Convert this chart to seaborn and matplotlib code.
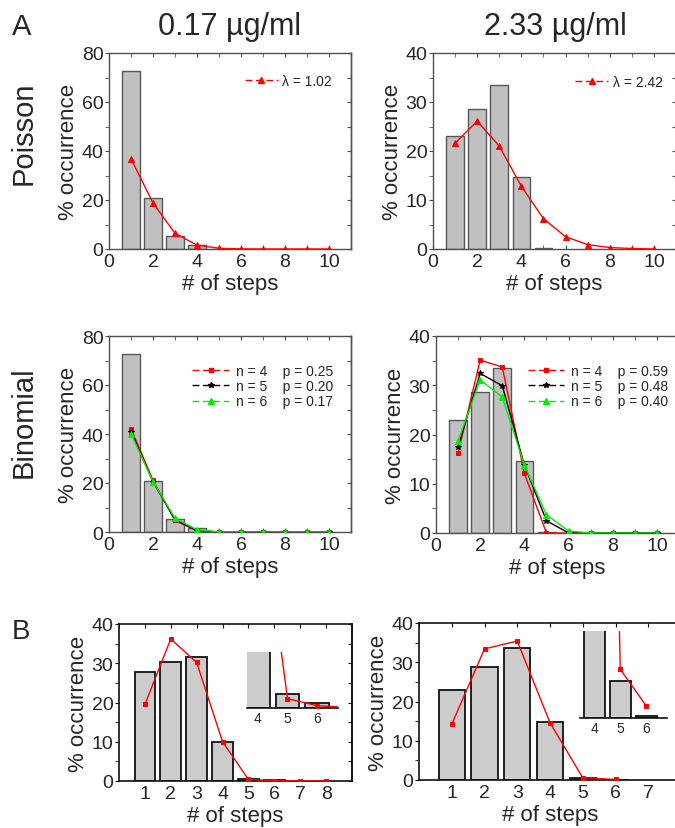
import numpy as np
import pandas as pd
import matplotlib
matplotlib.use("Agg")
import matplotlib.pyplot as plt
import seaborn as sns
from matplotlib.ticker import MultipleLocator
from matplotlib.lines import Line2D

# ---- data ----
steps = [1, 2, 3, 4, 5, 6, 7, 8, 9, 10]
hist_steps = [1, 2, 3, 4, 5]

hist_low = [72.5, 21.0, 5.3, 1.5, 0.2]        # 0.17 ug/ml
hist_high = [23.0, 28.6, 33.5, 14.7, 0.3]     # 2.33 ug/ml

poisson_low = [36.8, 18.8, 6.4, 1.6, 0.3, 0.06, 0.01, 0, 0, 0]
poisson_high = [21.6, 26.1, 21.0, 12.8, 6.2, 2.5, 0.9, 0.3, 0.1, 0.0]
lam_low, lam_high = "1.02", "2.42"

binom_n = [4, 5, 6]
binom_p_low = ["0.25", "0.20", "0.17"]
binom_p_high = ["0.59", "0.48", "0.40"]
binom_low = [
    [42.2, 21.1, 4.7, 0.4, 0, 0, 0, 0, 0, 0],
    [41.0, 20.5, 5.1, 0.6, 0.03, 0, 0, 0, 0, 0],
    [40.2, 20.6, 5.6, 0.9, 0.07, 0, 0, 0, 0, 0],
]
binom_high = [
    [16.3, 35.1, 33.7, 12.1, 0, 0, 0, 0, 0, 0],
    [17.5, 32.4, 29.9, 13.8, 2.5, 0, 0, 0, 0, 0],
    [18.7, 31.1, 27.6, 13.8, 3.7, 0.4, 0.02, 0, 0, 0],
]

b_steps_low = [1, 2, 3, 4, 5, 6]
b_hist_low = [27.8, 30.3, 31.6, 10.0, 0.6, 0.2]
b_fit_steps_low = [1, 2, 3, 4, 5, 6, 7, 8]
b_fit_low = [19.5, 36.2, 30.2, 10.0, 0.4, 0.1, 0.03, 0.02]

b_steps_high = [1, 2, 3, 4, 5, 6]
b_hist_high = [23.0, 28.7, 33.7, 14.7, 0.43, 0.02]
b_fit_steps_high = [1, 2, 3, 4, 5, 6]
b_fit_high = [14.2, 33.4, 35.4, 14.6, 0.56, 0.14]

# ---- style ----
sns.set_style("ticks")
plt.rcParams["font.family"] = ["Liberation Sans", "DejaVu Sans"]

W, H = 675, 829
fig = plt.figure(figsize=(W / 100, H / 100), dpi=100)


def px(l, r, t, b):
    return [l / W, 1 - b / H, (r - l) / W, (b - t) / H]


def bars(ax, x, y, face, edge, lw):
    df = pd.DataFrame({"steps": x, "occ": y})
    sns.barplot(data=df, x="steps", y="occ", native_scale=True, width=0.8,
                color=face, edgecolor=edge, linewidth=lw, saturation=1,
                errorbar=None, ax=ax, zorder=1)


def fit(ax, x, y, color, marker, ms):
    sns.lineplot(x=x, y=y, color=color, marker=marker, markersize=ms,
                 markeredgecolor=color, linewidth=1, ax=ax, legend=False, zorder=3)


def frame(ax, ymax, ymaj, yright, xlim, xmaj, xmin, spine_col, spine_lw, bottom_ticks=True):
    ax.set_xlim(*xlim)
    ax.set_ylim(0, ymax)
    ax.xaxis.set_major_locator(MultipleLocator(xmaj))
    ax.xaxis.set_minor_locator(MultipleLocator(xmin))
    ax.yaxis.set_major_locator(MultipleLocator(ymaj))
    ax.yaxis.set_minor_locator(MultipleLocator(ymaj / 2))
    for s in ax.spines.values():
        s.set_visible(True)
        s.set_color(spine_col)
        s.set_linewidth(spine_lw)
    ax.tick_params(axis="x", which="both", direction="in", top=True, bottom=bottom_ticks,
                   color=spine_col, labelsize=14, pad=3, length=3)
    ax.tick_params(axis="y", which="both", direction="out", right=False, left=True,
                   color=spine_col, labelsize=14, pad=1, length=3)
    sec = ax.secondary_yaxis("right")
    sec.yaxis.set_major_locator(MultipleLocator(yright))
    sec.tick_params(direction="in", length=3, labelright=False, color=spine_col)
    sec.spines["right"].set_color(spine_col)
    sec.spines["right"].set_linewidth(spine_lw)
    ax.set_xlabel("# of steps", fontsize=16, labelpad=2)
    ax.set_ylabel("% occurrence", fontsize=16, labelpad=2)


def legend_handle(color, marker, ms):
    return Line2D([], [], color=color, marker=marker, markersize=ms, lw=1,
                  ls=(0, (5, 2.5)), markeredgecolor=color)


gray_face, gray_edge = "#c0c0c0", "#585858"

# ---- A: Poisson ----
ax1 = fig.add_axes(px(109, 351, 54, 250))
bars(ax1, hist_steps, hist_low, gray_face, gray_edge, 1.0)
fit(ax1, steps, poisson_low, "#ff0000", "^", 4)
frame(ax1, 80, 20, 10, (0, 11), 2, 1, "#505050", 1.0)
ax1.legend(handles=[legend_handle("#ff0000", "^", 4)], labels=[f"\u03bb = {lam_low}"],
           loc="center left", bbox_to_anchor=(0.56, 0.857), frameon=False, fontsize=10,
           handlelength=2.4, handletextpad=0.3, borderpad=0, borderaxespad=0)

ax2 = fig.add_axes(px(433, 676, 54, 250))
bars(ax2, hist_steps, hist_high, gray_face, gray_edge, 1.0)
fit(ax2, steps, poisson_high, "#ff0000", "^", 4)
frame(ax2, 40, 10, 5, (0, 11), 2, 1, "#505050", 1.0)
ax2.legend(handles=[legend_handle("#ff0000", "^", 4)], labels=[f"\u03bb = {lam_high}"],
           loc="center left", bbox_to_anchor=(0.585, 0.852), frameon=False, fontsize=10,
           handlelength=2.4, handletextpad=0.3, borderpad=0, borderaxespad=0)

# ---- A: Binomial ----
line_cols = ["#ff0000", "#000000", "#00ee00"]
line_marks = ["s", "*", "^"]
line_ms = [3.5, 4, 4]

ax3 = fig.add_axes(px(109, 351, 337, 533))
bars(ax3, hist_steps, hist_low, gray_face, gray_edge, 1.0)
for vals, c, m, s in zip(binom_low, line_cols, line_marks, line_ms):
    fit(ax3, steps, vals, c, m, s)
frame(ax3, 80, 20, 10, (0, 11), 2, 1, "#505050", 1.0)
ax3.legend(handles=[legend_handle(c, m, s) for c, m, s in zip(line_cols, line_marks, line_ms)],
           labels=[f"n = {n}    p = {p}" for n, p in zip(binom_n, binom_p_low)],
           loc="center left", bbox_to_anchor=(0.345, 0.745), frameon=False, fontsize=10,
           handlelength=2.6, handletextpad=0.5, borderpad=0, borderaxespad=0, labelspacing=0.1)

ax4 = fig.add_axes(px(436, 679, 337, 534))
bars(ax4, hist_steps, hist_high, gray_face, gray_edge, 1.0)
for vals, c, m, s in zip(binom_high, line_cols, line_marks, line_ms):
    fit(ax4, steps, vals, c, m, s)
frame(ax4, 40, 10, 5, (0, 11), 2, 1, "#505050", 1.0)
ax4.legend(handles=[legend_handle(c, m, s) for c, m, s in zip(line_cols, line_marks, line_ms)],
           labels=[f"n = {n}    p = {p}" for n, p in zip(binom_n, binom_p_high)],
           loc="center left", bbox_to_anchor=(0.38, 0.746), frameon=False, fontsize=10,
           handlelength=2.6, handletextpad=0.5, borderpad=0, borderaxespad=0, labelspacing=0.1)

# ---- B ----
b_face = "#cccccc"
ax5 = fig.add_axes(px(119, 352, 625, 782))
bars(ax5, b_steps_low, b_hist_low, b_face, "#111111", 1.3)
fit(ax5, b_fit_steps_low, b_fit_low, "#ff0000", "s", 3.5)
frame(ax5, 40, 10, 5, (0, 9), 1, 1, "#111111", 1.2, bottom_ticks=False)

ax6 = fig.add_axes(px(419, 681, 624, 781))
bars(ax6, b_steps_high, b_hist_high, b_face, "#111111", 1.3)
fit(ax6, b_fit_steps_high, b_fit_high, "#ff0000", "s", 3.5)
frame(ax6, 40, 10, 5, (0, 8), 1, 1, "#111111", 1.2, bottom_ticks=False)
for ax in (ax5, ax6):
    ax.set_xticks(range(1, int(ax.get_xlim()[1])))


def inset(rect, x, y, fx, fy, xlim, ymax):
    ax = fig.add_axes(rect)
    ax.patch.set_alpha(0)
    bars(ax, x, y, b_face, "#111111", 1.3)
    fit(ax, fx, fy, "#ff0000", "s", 3.5)
    ax.set_xlim(*xlim)
    ax.set_ylim(0, ymax)
    ax.set_xticks([4, 5, 6])
    ax.set_yticks([])
    for k in ("left", "top", "right"):
        ax.spines[k].set_visible(False)
    ax.spines["bottom"].set_color("#111111")
    ax.spines["bottom"].set_linewidth(1.2)
    ax.tick_params(axis="x", length=0, labelsize=10, pad=2)
    ax.set_xlabel("")
    ax.set_ylabel("")
    return ax


inset(px(247, 338, 653, 709), b_steps_low, b_hist_low, b_fit_steps_low, b_fit_low, (3.63, 6.71), 2.4)
inset(px(580, 667, 632, 719), b_steps_high, b_hist_high, b_fit_steps_high, b_fit_high, (3.45, 6.8), 1.0)

# ---- figure texts ----
fig.text(22 / W, 1 - 27 / H, "A", fontsize=21, ha="center", va="center")
fig.text(21 / W, 1 - 632 / H, "B", fontsize=20, ha="center", va="center")
fig.text(230 / W, 1 - 27 / H, "0.17 \u00b5g/ml", fontsize=22, ha="center", va="center")
fig.text(555 / W, 1 - 27 / H, "2.33 \u00b5g/ml", fontsize=22, ha="center", va="center")
fig.text(24 / W, 1 - 133 / H, "Poisson", fontsize=21, rotation=90, ha="center", va="center")
fig.text(24 / W, 1 - 422 / H, "Binomial", fontsize=21, rotation=90, ha="center", va="center")

fig.savefig("out.png", dpi=100)
